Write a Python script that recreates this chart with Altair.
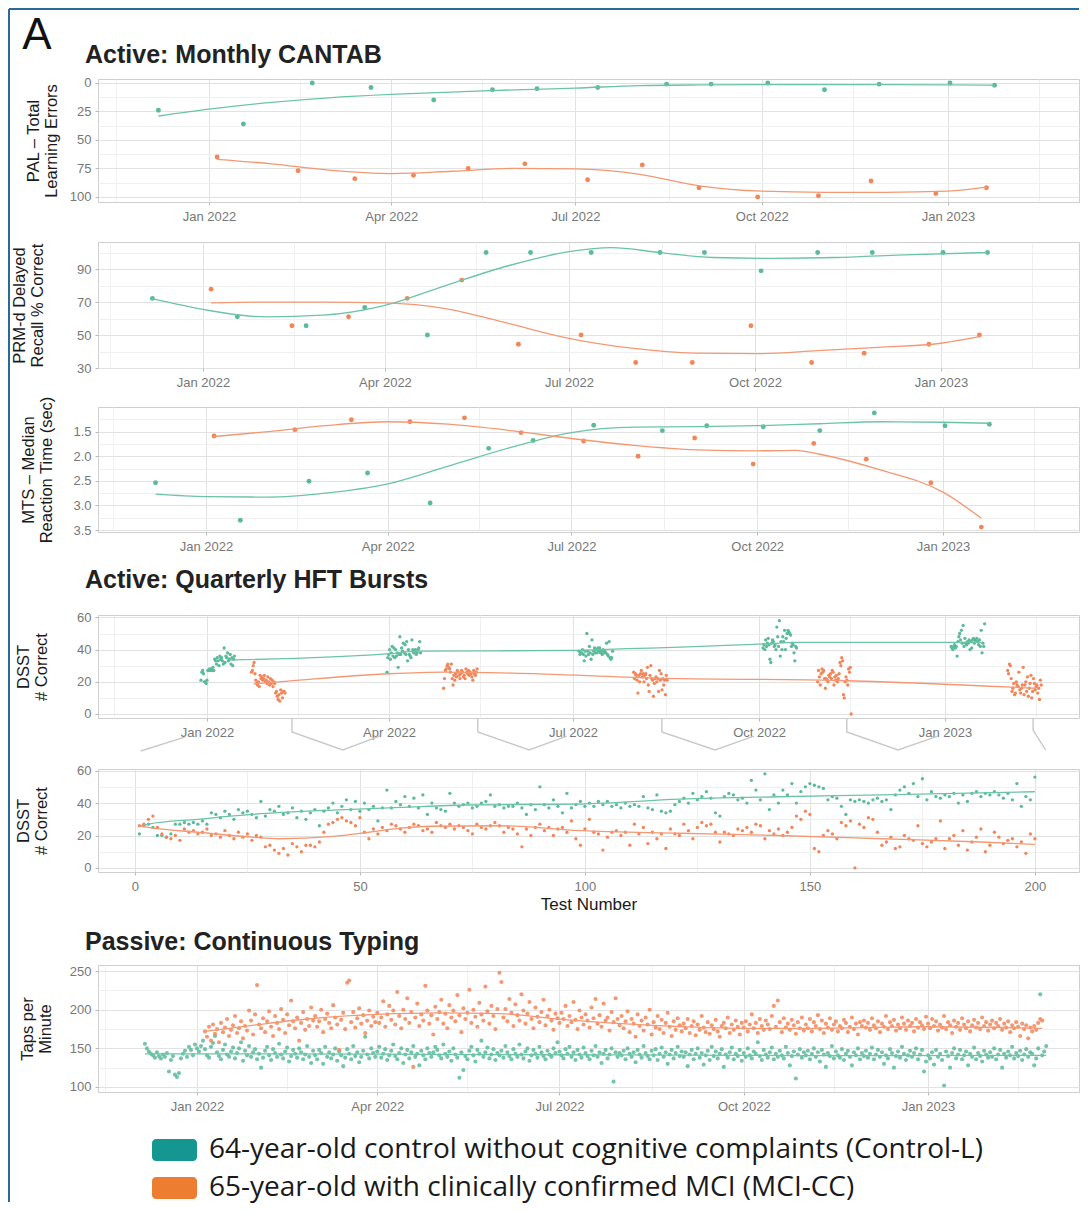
import altair as alt
import pandas as pd

FONT = "Liberation Sans"
W = 981
GRID_MAJ = "#e2e2e2"
GRID_MIN = "#f0f0f0"
PANEL = "#cfcfcf"
TICK = "#b8b8b8"
LABEL = "#777777"
TITLE = "#1a1a1a"
BORDER = "#2a6a99"

groups = ["Control-L", "MCI-CC"]
point_colors = ["#5cba9a", "#f2865b"]
line_colors = ["#6cc4a7", "#f49873"]

section_titles = ["Active: Monthly CANTAB", "Active: Quarterly HFT Bursts", "Passive: Continuous Typing"]

# ---------------- Monthly CANTAB ----------------
ctrl_sessions = ["2021-12-07", "2022-01-18", "2022-02-21", "2022-03-22", "2022-04-22", "2022-05-21",
                 "2022-06-12", "2022-07-12", "2022-08-15", "2022-09-06", "2022-10-04", "2022-11-01",
                 "2022-11-28", "2023-01-02", "2023-01-24"]
mci_sessions = ["2022-01-05", "2022-02-14", "2022-03-14", "2022-04-12", "2022-05-09", "2022-06-06",
                "2022-07-07", "2022-08-03", "2022-08-31", "2022-09-29", "2022-10-29", "2022-11-24",
                "2022-12-26", "2023-01-20"]

pal_ctrl = [24, 36, 0, 4, 15, 6, 5, 4, 1, 1, 0, 6, 1, 0, 2]
pal_mci = [65, 77, 84, 81, 75, 71, 85, 72, 92, 100, 99, 86, 97, 92]
prm_ctrl = [72.2, 61.1, 55.6, 66.7, 50.0, 100, 100, 100, 100, 100, 88.9, 100, 100, 100, 100]
prm_mci = [77.8, 55.6, 61.1, 72.2, 83.3, 44.4, 50.0, 33.3, 33.3, 55.6, 33.3, 38.9, 44.4, 50.0]
mts_ctrl = [2.54, 3.30, 2.51, 2.34, 2.95, 1.84, 1.68, 1.37, 1.48, 1.38, 1.40, 1.48, 1.12, 1.38, 1.35]
mts_mci = [1.59, 1.46, 1.26, 1.30, 1.22, 1.52, 1.69, 2.00, 1.63, 2.16, 1.74, 2.06, 2.54, 3.44]

# smoothed trend lines
ctrl_fit_dates = ["2021-12-07", "2022-01-01", "2022-02-01", "2022-03-01", "2022-04-01", "2022-05-01",
                  "2022-06-01", "2022-07-01", "2022-08-01", "2022-09-01", "2022-10-01", "2022-11-01",
                  "2022-12-01", "2023-01-01", "2023-01-24"]
mci_fit_dates = ["2022-01-05", "2022-02-01", "2022-03-01", "2022-04-01", "2022-05-01", "2022-06-01",
                 "2022-07-01", "2022-08-01", "2022-09-01", "2022-10-01", "2022-11-01", "2022-12-01",
                 "2023-01-01", "2023-01-20"]
pal_ctrl_fit = [29, 23, 17, 13, 10, 8, 6, 4.5, 2.3, 1.7, 1.5, 1.5, 1.5, 1.7, 2]
pal_mci_fit = [67, 71, 76.5, 79.5, 77.5, 75, 75.5, 80, 90.5, 95, 96, 96, 95, 91.5]

prm_ctrl_fit_dates = ["2021-12-07", "2022-01-01", "2022-02-01", "2022-03-01", "2022-04-01", "2022-05-01",
                      "2022-06-01", "2022-07-01", "2022-07-22", "2022-08-15", "2022-09-10", "2022-10-10",
                      "2022-11-10", "2022-12-10", "2023-01-24"]
prm_ctrl_fit = [72, 65.5, 61, 62, 68, 80, 92, 100.5, 103, 100, 97, 96.5, 97, 98.5, 100]
prm_mci_fit = [69.5, 70, 70, 69.5, 66, 57, 48, 42, 39, 38.7, 40.5, 42.5, 45, 49]

mts_ctrl_fit = [2.77, 2.82, 2.83, 2.75, 2.56, 2.2, 1.82, 1.52, 1.41, 1.40, 1.38, 1.34, 1.30, 1.31, 1.33]
mts_mci_fit_dates = ["2022-01-05", "2022-02-01", "2022-03-01", "2022-04-01", "2022-05-01", "2022-06-01",
                     "2022-07-01", "2022-08-01", "2022-09-01", "2022-10-01", "2022-10-20", "2022-11-01",
                     "2022-12-01", "2023-01-01", "2023-01-20"]
mts_mci_fit = [1.6, 1.5, 1.38, 1.3, 1.35, 1.48, 1.64, 1.78, 1.87, 1.89, 1.88, 1.96, 2.28, 2.73, 3.26]

# ---------------- DSST (quarterly high-frequency bursts) ----------------
dsst_ctrl = [21, 26, 27, 25, 20, 20, 19, 21, 27, 27,
             28, 27, 28, 27, 29, 27, 34, 33, 31, 35,
             33, 30, 36, 34, 35, 33, 31, 41, 32, 36,
             35, 38, 33, 34, 37, 31, 35, 30, 34, 36,
             26, 35, 37, 40, 34, 38, 42, 36, 41, 35,
             40, 36, 38, 29, 37, 48, 37, 41, 39, 44,
             38, 43, 37, 45, 33, 40, 37, 36, 35, 46,
             40, 38, 39, 40, 37, 38, 40, 41, 45, 38,
             39, 37, 38, 38, 40, 37, 33, 39, 36, 50,
             39, 37, 42, 38, 34, 46, 37, 39, 41, 38,
             40, 38, 41, 39, 41, 38, 39, 37, 40, 38,
             39, 38, 44, 37, 36, 45, 35, 34, 35, 39,
             41, 43, 40, 46, 42, 44, 47, 43, 34, 32,
             44, 46, 45, 42, 43, 40, 54, 48, 42, 58,
             36, 45, 40, 48, 45, 52, 40, 47, 50, 52,
             51, 50, 49, 42, 44, 43, 38, 33, 42, 41,
             42, 41, 40, 42, 43, 41, 42, 36, 45, 48,
             50, 46, 52, 44, 55, 42, 47, 44, 43, 45,
             44, 46, 40, 45, 41, 46, 47, 44, 46, 45,
             47, 45, 43, 46, 42, 52, 38, 44, 42, 56]
dsst_mci = [26, 27, 30, 32, 25, 21, 19, 18, 20, 17,
            24, 22, 23, 21, 22, 24, 20, 21, 19, 23,
            20, 18, 22, 19, 21, 17, 20, 19, 13, 14,
            11, 9, 12, 8, 15, 13, 10, 14, 14, 13,
            16, 22, 27, 28, 30, 31, 29, 28, 26, 31,
            22, 18, 24, 21, 25, 23, 27, 26, 24, 22,
            25, 27, 26, 23, 24, 22, 28, 26, 25, 27,
            24, 26, 25, 23, 21, 27, 25, 24, 26, 28,
            26, 22, 25, 24, 21, 13, 24, 20, 25, 27,
            23, 25, 20, 24, 25, 22, 29, 18, 14, 24,
            30, 22, 21, 11, 19, 22, 23, 20, 22, 14,
            27, 21, 25, 15, 22, 18, 21, 12, 24, 21,
            20, 27, 23, 18, 25, 28, 26, 27, 22, 16,
            22, 21, 20, 24, 23, 25, 22, 27, 26, 18,
            23, 21, 24, 20, 22, 25, 32, 30, 35, 33,
            12, 10, 20, 23, 21, 18, 28, 26, 29, 0,
            27, 25, 31, 30, 22, 14, 16, 19, 12, 13,
            20, 18, 17, 26, 15, 13, 16, 18, 29, 12,
            18, 20, 14, 23, 11, 16, 19, 24, 10, 14,
            22, 19, 15, 17, 18, 13, 16, 9, 21, 18]

ctrl_burst_starts = ["2021-12-29", "2022-03-31", "2022-07-04", "2022-10-03", "2023-01-04"]
mci_burst_starts = ["2022-01-23", "2022-04-28", "2022-07-31", "2022-10-30", "2023-02-01"]
tests_per_burst = 40
burst_days = 17

dq_ctrl_fit_dates = ["2022-01-12", "2022-04-01", "2022-04-15", "2022-07-01", "2022-07-15", "2022-10-03",
                     "2022-10-20", "2023-01-19"]
dq_ctrl_fit = [33.5, 37.5, 39, 39.5, 40, 43.5, 44.5, 44.5]
dq_mci_fit_dates = ["2022-01-24", "2022-02-10", "2022-04-01", "2022-04-28", "2022-06-01", "2022-08-10",
                    "2022-11-10", "2023-02-15"]
dq_mci_fit = [18.7, 20.4, 25, 26, 25.4, 22.3, 20.8, 16]

dt_ctrl_fit_tests = [1, 3, 14, 26, 44, 59, 74, 99, 121, 143, 166, 200]
dt_ctrl_fit = [25.5, 27, 30, 33, 35.7, 37.3, 38.8, 39.4, 42.4, 43.9, 45, 47]
dt_mci_fit_tests = [1, 3, 14, 26, 32, 44, 52, 59, 66, 81, 99, 121, 143, 166, 188, 200]
dt_mci_fit = [26, 25, 22, 19, 18, 19.4, 22, 24.5, 25.7, 26, 23, 21.4, 20, 18, 16, 14.5]

# zoom connector brackets (test number, level above panel)
bracket_id = [1, 1, 2, 2, 2, 2, 3, 3, 3, 3, 4, 4, 4, 4, 5, 5, 5, 5, 6, 6, 6]
bracket_test = [1.3, 11.1, 34.9, 34.9, 46.2, 54.4, 76.2, 76.2, 87.6, 96.0, 117.1, 117.1, 128.9, 137.6,
                158.2, 158.2, 169.6, 178.4, 199.6, 199.6, 202.4]
bracket_level = [72.1, 80.7, 92.4, 83.8, 72.7, 81.3, 92.4, 83.8, 72.7, 81.3, 92.4, 83.8, 72.7, 81.3,
                 92.4, 83.8, 72.7, 81.3, 92.4, 85.0, 72.7]

# ---------------- Passive typing (daily) ----------------
typ_ctrl_start = "2021-12-06"
typ_ctrl = [
    156, 150, 146, 143, 141, 138, 145, 140, 137, 142, 139, 144, 120, 135, 140, 116, 113, 118, 137, 143, 147, 139, 152, 148, 141, 155,
    150, 146, 153, 160, 149, 141, 138, 152, 157, 166, 145, 140, 136, 148, 155, 142, 139, 146, 151, 137, 144, 150, 158, 134, 147, 141, 153, 139, 145, 149, 136,
    143, 125, 138, 147, 152, 141, 135, 149, 144, 139, 156, 142, 137, 146, 151, 133, 140, 148, 143, 138, 150, 145, 136, 142, 153, 139, 131, 147,
    141, 136, 148, 144, 130, 152, 139, 145, 137, 142, 150, 134, 146, 141, 127, 138, 149, 143, 136, 153, 140, 145, 132, 139, 147, 165, 142, 137, 150, 144, 139,
    146, 152, 138, 143, 149, 135, 141, 147, 155, 140, 136, 144, 150, 131, 142, 148, 137, 145, 153, 139, 143, 128, 147, 141, 136, 150, 144, 139, 145, 152,
    148, 141, 137, 155, 143, 139, 146, 134, 150, 142, 138, 112, 145, 122, 140, 136, 147, 152, 141, 133, 148, 143, 160, 139, 145, 151, 137, 142, 149, 135, 144,
    141, 147, 138, 153, 145, 140, 136, 149, 143, 139, 155, 142, 137, 146, 150, 134, 141, 148, 143, 138, 152, 145, 140, 136, 147, 142, 139, 150, 144, 158,
    146, 141, 137, 149, 143, 152, 139, 145, 135, 148, 142, 138, 151, 144, 140, 136, 147, 141, 153, 139, 145, 131, 143, 148, 137, 142, 150, 107, 145, 139, 144,
    141, 147, 136, 150, 143, 139, 145, 132, 148, 142, 138, 153, 144, 140, 136, 147, 141, 149, 135, 143, 151, 139, 145, 130, 142, 148, 137, 144, 152, 140, 146,
    139, 145, 127, 142, 148, 136, 143, 150, 138, 144, 129, 141, 147, 135, 152, 140, 146, 137, 143, 149, 126, 142, 138, 145, 151, 136, 143, 140, 148, 134,
    144, 139, 150, 141, 137, 146, 143, 158, 140, 135, 148, 142, 138, 145, 151, 136, 143, 139, 147, 141, 137, 152, 144, 128, 140, 146, 111, 142, 149, 138, 145,
    141, 147, 136, 143, 150, 139, 145, 133, 148, 142, 126, 144, 140, 153, 137, 146, 141, 138, 149, 135, 143, 147, 139, 128, 145, 141, 150, 136, 144, 140,
    147, 138, 143, 151, 136, 142, 148, 139, 145, 130, 141, 137, 149, 144, 125, 140, 146, 138, 152, 143, 135, 141, 147, 139, 144, 150, 136, 142, 148, 120, 133,
    141, 137, 145, 129, 148, 139, 143, 135, 102, 146, 140, 125, 144, 150, 137, 142, 148, 136, 141, 146, 128, 143, 139, 151, 136, 144, 140, 133, 147, 142, 138,
    145, 139, 150, 136, 142, 148, 125, 143, 138, 146, 141, 152, 137, 144, 140, 147, 135, 142, 149, 139, 145, 143, 128, 137, 150, 220, 141, 146,
    153]
typ_mci_start = "2022-01-05"
typ_mci = [
    172, 165, 178, 160, 181, 169, 175, 158, 183, 171, 177, 188, 166, 174, 180, 192, 170, 176, 185, 163, 179, 173, 199, 186, 168, 194, 232,
    181, 176, 189, 171, 185, 198, 178, 166, 192, 183, 175, 201, 187, 170, 194, 180, 212, 185, 176, 190, 160, 183, 197, 174, 188, 179, 203, 186,
    192, 178, 185, 200, 171, 188, 195, 183, 176, 206, 190, 181, 148, 187, 196, 175, 235, 238, 184, 197, 177, 189, 202, 182, 193, 170, 186, 199, 179, 191, 184,
    196, 183, 190, 211, 178, 194, 205, 187, 199, 181, 223, 192, 176, 200, 188, 215, 183, 197, 126, 190, 208, 179, 194, 186, 231, 199, 182, 193, 168, 204,
    188, 197, 213, 182, 195, 176, 206, 190, 199, 185, 219, 193, 171, 202, 188, 196, 226, 183, 200, 191, 178, 209, 194, 186, 230, 198, 182, 205, 192, 175, 201,
    248, 236, 190, 201, 185, 214, 196, 179, 207, 193, 186, 220, 199, 182, 195, 210, 188, 176, 203, 191, 184, 197, 213, 180, 192, 200, 186, 174, 195, 189,
    183, 196, 188, 205, 179, 192, 184, 210, 187, 175, 199, 190, 181, 194, 186, 177, 203, 189, 214, 182, 193, 178, 208, 186, 190, 173, 197, 184, 215, 188, 180,
    192, 176, 185, 198, 171, 188, 182, 165, 194, 179, 186, 173, 190, 181, 200, 168, 184, 177, 192, 175, 187, 170, 183, 196, 178, 166, 185, 174, 189, 180, 172,
    182, 176, 188, 170, 179, 185, 167, 181, 174, 192, 177, 171, 184, 169, 180, 175, 187, 172, 165, 179, 183, 176, 190, 170, 181, 174, 186, 178, 168, 183,
    177, 185, 172, 181, 194, 176, 183, 170, 188, 179, 174, 186, 181, 175, 192, 205, 178, 212, 184, 171, 189, 177, 182, 174, 187, 180, 169, 184, 176, 190, 173,
    181, 176, 188, 172, 184, 179, 193, 175, 186, 170, 182, 177, 189, 174, 181, 185, 172, 179, 176, 187, 183, 171, 178, 190, 175, 182, 168, 184, 179, 186,
    177, 183, 174, 189, 180, 176, 185, 171, 182, 178, 192, 175, 184, 179, 187, 173, 181, 176, 190, 182, 174, 186, 179, 183, 172, 188, 177, 184, 180, 175, 191,
    182, 176, 188, 179, 185, 173, 181, 177, 192, 175, 184, 180, 170, 186, 178, 183, 174, 189, 181, 176, 185, 172, 180, 187, 177, 183, 175, 190, 179, 184, 173,
    181, 186, 176, 183, 179, 188, 174, 182, 177, 185, 171, 180, 176, 184, 178, 166, 182, 175, 180, 163, 177, 172, 179, 174, 183, 188, 186]

typ_ctrl_fit_dates = ["2021-12-06", "2022-02-01", "2022-04-01", "2022-06-01", "2022-08-01", "2022-10-01",
                      "2022-12-01", "2023-03-01"]
typ_ctrl_fit = [143, 143, 142.5, 142, 141.5, 141, 140.5, 141]
typ_mci_fit_dates = ["2022-01-05", "2022-02-01", "2022-03-01", "2022-04-01", "2022-05-01", "2022-06-01",
                     "2022-07-01", "2022-08-01", "2022-09-01", "2022-10-01", "2022-11-01", "2022-12-01",
                     "2023-01-01", "2023-02-27"]
typ_mci_fit = [172, 181, 189, 194, 196, 195, 188, 182, 178, 176, 176, 177, 178, 176]

legend_labels = ["64-year-old control without cognitive complaints (Control-L)",
                 "65-year-old with clinically confirmed MCI (MCI-CC)"]
legend_colors = ["#149691", "#ed7d31"]


# ---------------- helpers ----------------
def two_group_df(c_x, c_v, m_x, m_v, xname="date"):
    df = pd.DataFrame({
        xname: list(c_x) + list(m_x),
        "value": list(c_v) + list(m_v),
        "group": [groups[0]] * len(c_v) + [groups[1]] * len(m_v),
    })
    if xname == "date":
        df["date"] = pd.to_datetime(df["date"])
    return df


def dt(y, m, d, h=0):
    return alt.DateTime(year=y, month=m, date=d, hours=h)


date_majors = [dt(2022, 1, 1), dt(2022, 4, 1), dt(2022, 7, 1), dt(2022, 10, 1), dt(2023, 1, 1)]
date_minors = [dt(2021, 11, 16), dt(2022, 2, 15), dt(2022, 5, 16), dt(2022, 8, 16), dt(2022, 11, 15),
               dt(2023, 2, 15)]


def cond(test, a, b):
    return {"condition": {"test": test, "value": a}, "value": b}


def axis(values, test, fmt, title=None, titleX=None, **kw):
    args = dict(values=values, format=fmt, labelExpr=f"({test}) ? datum.label : ''",
                gridColor=cond(test, GRID_MAJ, GRID_MIN), gridWidth=1,
                tickColor=cond(test, TICK, "rgba(0,0,0,0)"), tickSize=3,
                domain=False, labelOverlap=False, labelFlush=False,
                labelFont=FONT, labelFontSize=13, labelColor=LABEL, labelPadding=4,
                titleFont=FONT, titleFontSize=16.5, titleFontWeight="normal", titleColor=TITLE)
    if title is None:
        args["title"] = None
    else:
        args["title"] = title
        if titleX is not None:
            args.update(titleX=titleX, titleAngle=270, titleBaseline="middle", titleAlign="center",
                        titleLineHeight=18)
    args.update(kw)
    return alt.Axis(**args)


x_date_axis = axis(date_majors + date_minors, "date(datum.value) == 1", "%b %Y", labelPadding=5)


def date_panel(pts, fit, xdom, y_ax, ydom, reverse, height, size, opacity=1.0):
    x = alt.X("date:T", scale=alt.Scale(domain=xdom), axis=x_date_axis)
    y = alt.Y("value:Q", scale=alt.Scale(domain=ydom, reverse=reverse, nice=False, zero=False), axis=y_ax)
    pts_l = alt.Chart(pts).mark_circle(size=size, opacity=opacity).encode(
        x=x, y=y,
        color=alt.Color("group:N", scale=alt.Scale(domain=groups, range=point_colors), legend=None))
    fit_l = alt.Chart(fit).mark_line(interpolate="monotone", strokeWidth=1.3).encode(
        x=x, y=y,
        stroke=alt.Stroke("group:N", scale=alt.Scale(domain=groups, range=line_colors), legend=None),
        detail="group:N")
    return alt.layer(pts_l, fit_l).properties(
        width=W, height=height, view=alt.ViewBackground(stroke=PANEL, strokeWidth=1))


def title_text(text, x, y):
    return alt.Chart(pd.DataFrame({"t": [text]})).mark_text(
        font=FONT, fontSize=25, fontWeight="bold", align="left", baseline="alphabetic", color="#222222"
    ).encode(text="t:N", x=alt.value(x), y=alt.value(y))


def spacer(h, extra=()):
    base = alt.Chart(pd.DataFrame({"s": [0]})).mark_point(opacity=0).encode(x=alt.value(0), y=alt.value(0))
    return alt.layer(base, *extra).properties(width=W, height=h, view=alt.ViewBackground(stroke=None))


one = pd.DataFrame({"t": ["A"]})

# ---------------- PAL ----------------
pal_pts = two_group_df(ctrl_sessions, pal_ctrl, mci_sessions, pal_mci)
pal_fit = two_group_df(ctrl_fit_dates, pal_ctrl_fit, mci_fit_dates, pal_mci_fit)
pal_yax = axis([0, 25, 50, 75, 100, 12.5, 37.5, 62.5, 87.5], "datum.value % 25 == 0", "d",
               title=["PAL – Total", "Learning Errors"], titleX=-65)
pal = date_panel(pal_pts, pal_fit, [dt(2021, 11, 7, 4), dt(2023, 3, 6, 17)], pal_yax, [-3.5, 104.5], True,
                 123, 24)

# the figure letter, frame and first section title live in the spacer below PAL (its top is page y=200)
letter = alt.Chart(one).mark_text(font=FONT, fontSize=44, align="center", baseline="alphabetic",
                                  color="#111111").encode(text="t:N", x=alt.value(-61), y=alt.value(-153))
border_top = alt.Chart(one).mark_rule(color=BORDER, strokeWidth=2).encode(
    x=alt.value(-89), x2=alt.value(W), y=alt.value(-193))
border_left = alt.Chart(one).mark_rule(color=BORDER, strokeWidth=2).encode(
    x=alt.value(-89), y=alt.value(-193), y2=alt.value(1000))
sp1 = spacer(40, (border_top, border_left, letter, title_text(section_titles[0], -13, -139)))

# ---------------- PRM ----------------
prm_pts = two_group_df(ctrl_sessions, prm_ctrl, mci_sessions, prm_mci)
prm_fit = two_group_df(prm_ctrl_fit_dates, prm_ctrl_fit, mci_fit_dates, prm_mci_fit)
prm_yax = axis([30, 50, 70, 90, 40, 60, 80, 100], "(datum.value - 30) % 20 == 0", "d",
               title=["PRM-d Delayed", "Recall % Correct"], titleX=-79)
prm = date_panel(prm_pts, prm_fit, [dt(2021, 11, 10, 2), dt(2023, 3, 10, 6)], prm_yax, [30, 106.4], False,
                 126, 24)

# ---------------- MTS ----------------
mts_pts = two_group_df(ctrl_sessions, mts_ctrl, mci_sessions, mts_mci)
mts_fit = two_group_df(ctrl_fit_dates, mts_ctrl_fit, mts_mci_fit_dates, mts_mci_fit)
mts_yax = axis([1.5, 2.0, 2.5, 3.0, 3.5, 1.25, 1.75, 2.25, 2.75, 3.25],
               "abs(datum.value * 2 - round(datum.value * 2)) < 0.01", ".1f",
               title=["MTS – Median", "Reaction Time (sec)"], titleX=-70)
mts = date_panel(mts_pts, mts_fit, [dt(2021, 11, 8, 12), dt(2023, 3, 9, 9)], mts_yax, [1.0, 3.54], True,
                 125, 24)

sp3 = spacer(83, (title_text(section_titles[1], -13, 56),))


# ---------------- DSST quarterly ----------------
def burst_dates(starts):
    out = []
    for s in starts:
        base = pd.Timestamp(s)
        for k in range(tests_per_burst):
            out.append(base + pd.Timedelta(hours=24 * burst_days * k / tests_per_burst))
    return out


dq_pts = pd.DataFrame({
    "date": burst_dates(ctrl_burst_starts) + burst_dates(mci_burst_starts),
    "value": dsst_ctrl + dsst_mci,
    "group": [groups[0]] * len(dsst_ctrl) + [groups[1]] * len(dsst_mci),
})
dq_fit = two_group_df(dq_ctrl_fit_dates, dq_ctrl_fit, dq_mci_fit_dates, dq_mci_fit)
dsst_vals = [0, 20, 40, 60, 10, 30, 50]
dq_yax = axis(dsst_vals, "datum.value % 20 == 0", "d", title=["DSST", "# Correct"], titleX=-75)
dq = date_panel(dq_pts, dq_fit, [dt(2021, 11, 8, 2), dt(2023, 3, 8, 6)], dq_yax, [-2.5, 61.5], False,
                103, 11)

# ---------------- DSST by test number ----------------
tests = list(range(1, len(dsst_ctrl) + 1))
dtn_pts = two_group_df(tests, dsst_ctrl, tests, dsst_mci, xname="test")
dtn_fit = two_group_df(dt_ctrl_fit_tests, dt_ctrl_fit, dt_mci_fit_tests, dt_mci_fit, xname="test")
br = pd.DataFrame({"bid": bracket_id, "test": bracket_test, "value": bracket_level,
                   "seq": list(range(len(bracket_id)))})
test_ax = axis([0, 50, 100, 150, 200, 25, 75, 125, 175], "datum.value % 50 == 0", "d",
               title="Test Number", labelPadding=5, titlePadding=3, titleFontSize=17)
dt_yax = axis(dsst_vals, "datum.value % 20 == 0", "d", title=["DSST", "# Correct"], titleX=-75)
xt = alt.X("test:Q", scale=alt.Scale(domain=[-8.2, 209.8], nice=False, zero=False), axis=test_ax)
yt = alt.Y("value:Q", scale=alt.Scale(domain=[-2.5, 61], nice=False, zero=False), axis=dt_yax)
dtn = alt.layer(
    alt.Chart(br).mark_line(color="#c9c9c9", strokeWidth=1.4, clip=False).encode(
        x=xt, y=yt, detail="bid:N", order="seq:Q"),
    alt.Chart(dtn_pts).mark_circle(size=11, opacity=1).encode(
        x=xt, y=yt, color=alt.Color("group:N", scale=alt.Scale(domain=groups, range=point_colors), legend=None)),
    alt.Chart(dtn_fit).mark_line(interpolate="monotone", strokeWidth=1.3).encode(
        x=xt, y=yt, detail="group:N",
        stroke=alt.Stroke("group:N", scale=alt.Scale(domain=groups, range=line_colors), legend=None)),
).properties(width=W, height=103, view=alt.ViewBackground(stroke=PANEL, strokeWidth=1))

sp5 = spacer(93, (title_text(section_titles[2], -13, 78),))

# ---------------- Typing ----------------
typ_pts = pd.DataFrame({
    "date": list(pd.date_range(typ_ctrl_start, periods=len(typ_ctrl), freq="D"))
    + list(pd.date_range(typ_mci_start, periods=len(typ_mci), freq="D")),
    "value": typ_ctrl + typ_mci,
    "group": [groups[0]] * len(typ_ctrl) + [groups[1]] * len(typ_mci),
})
typ_fit = two_group_df(typ_ctrl_fit_dates, typ_ctrl_fit, typ_mci_fit_dates, typ_mci_fit)
typ_yax = axis([100, 150, 200, 250, 125, 175, 225], "datum.value % 50 == 0", "d",
               title=["Taps per", "Minute"], titleX=-71)
typ = date_panel(typ_pts, typ_fit, [dt(2021, 11, 12, 14), dt(2023, 3, 17, 9)], typ_yax, [93.5, 258], False,
                 127, 17, opacity=0.85)

# ---------------- Legend ----------------
leg_df = pd.DataFrame({"label": legend_labels, "color": legend_colors})
yl = alt.Y("label:N", sort=None, axis=None, scale=alt.Scale(paddingInner=0.42, paddingOuter=0))
legend = alt.layer(
    alt.Chart(leg_df).mark_rect(cornerRadius=4).encode(
        y=yl, x=alt.value(54), x2=alt.value(99), color=alt.Color("color:N", scale=None)),
    alt.Chart(leg_df).mark_text(align="left", baseline="middle", font="Open Sans", fontSize=28,
                                color="#1a1a1a").encode(y=yl, x=alt.value(111), text="label:N"),
).properties(width=W, height=60, view=alt.ViewBackground(stroke=None))

chart = alt.vconcat(
    pal, sp1, prm, spacer(39), mts, sp3, dq, spacer(51), dtn, sp5, typ, spacer(47), legend,
    spacing=0, bounds="flush",
).properties(padding=0, background="white").configure_view(stroke=None)

chart.save("out.html", embed_options={"renderer": "svg", "actions": False})
